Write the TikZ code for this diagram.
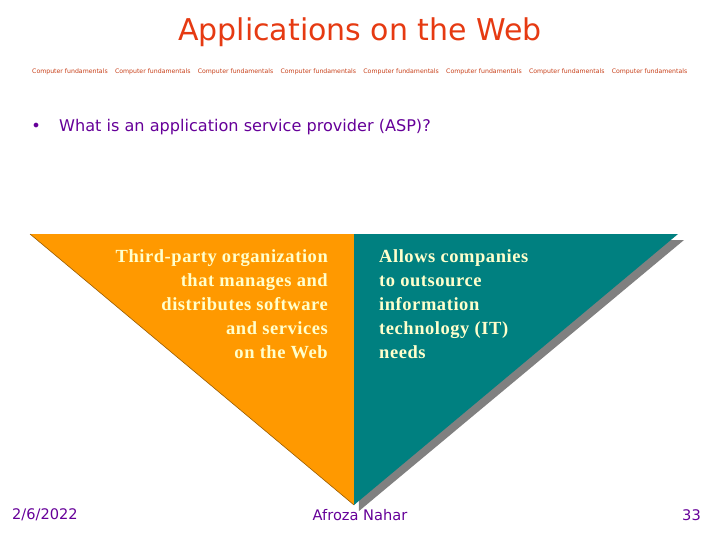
\documentclass[tikz,border=0pt]{standalone}
\usepackage{fontspec}
\setmainfont{DejaVu Sans}
\newfontfamily\serifbold{Liberation Serif}[LetterSpace=3]
\definecolor{titlered}{HTML}{E63A12}
\definecolor{smallred}{HTML}{C8401A}
\definecolor{purp}{HTML}{660099}
\definecolor{orangefill}{HTML}{FF9900}
\definecolor{tealfill}{HTML}{008080}
\definecolor{shadowgray}{HTML}{808080}
\definecolor{cream}{HTML}{FFFFCC}
\begin{document}
\begin{tikzpicture}[x=1pt,y=-1pt,
  title/.style={text=titlered,font=\fontsize{30}{34}\selectfont,inner sep=0},
  tiny/.style={text=smallred,font=\fontsize{6.2}{7}\selectfont,inner sep=0},
  body/.style={text=purp,font=\fontsize{16.1}{18}\selectfont,inner sep=0},
  foot/.style={text=purp,font=\fontsize{14.6}{16}\selectfont,inner sep=0},
  tritext/.style={text=cream,font=\serifbold\bfseries\fontsize{18.5}{24}\selectfont,inner sep=0}]
\useasboundingbox[fill=white] (0,0) rectangle (720,540);
% title
\node[title] (t) at (360,32) {Applications on the Web};
% tiny repeated line
\foreach \i in {0,...,7}{
  \node[tiny,anchor=west] (c\i) at (32+\i*82.8,72) {Computer fundamentals};
}
% bullet
\node[body] (b) at (36,127) {•};
\node[body,anchor=west] (q) at (59,127) {What is an application service provider (ASP)?};
% shadow
\fill[shadowgray] (354,240) -- (684,240) -- (359,511) -- cycle;
% orange half
\fill[orangefill] (30,234) -- (354,234) -- (354,505) -- cycle;
\draw[color=orangefill!60!black,line width=0.6pt] (30,234) -- (354,505);
% teal half
\fill[tealfill] (354,234) -- (678,234) -- (354,505) -- cycle;
% texts
\node[tritext,anchor=north east,align=right] (l) at (328,249) {Third-party organization\\that manages and\\distributes software\\and services\\on the Web};
\node[tritext,anchor=north west,align=left] (r) at (379,249) {Allows companies\\to outsource\\information\\technology (IT)\\needs};
% footer
\node[foot,anchor=west] (d) at (12,515) {2/6/2022};
\node[foot] (a) at (360,515) {Afroza Nahar};
\node[foot,anchor=east] (n) at (701,515) {33};
\end{tikzpicture}
\end{document}
